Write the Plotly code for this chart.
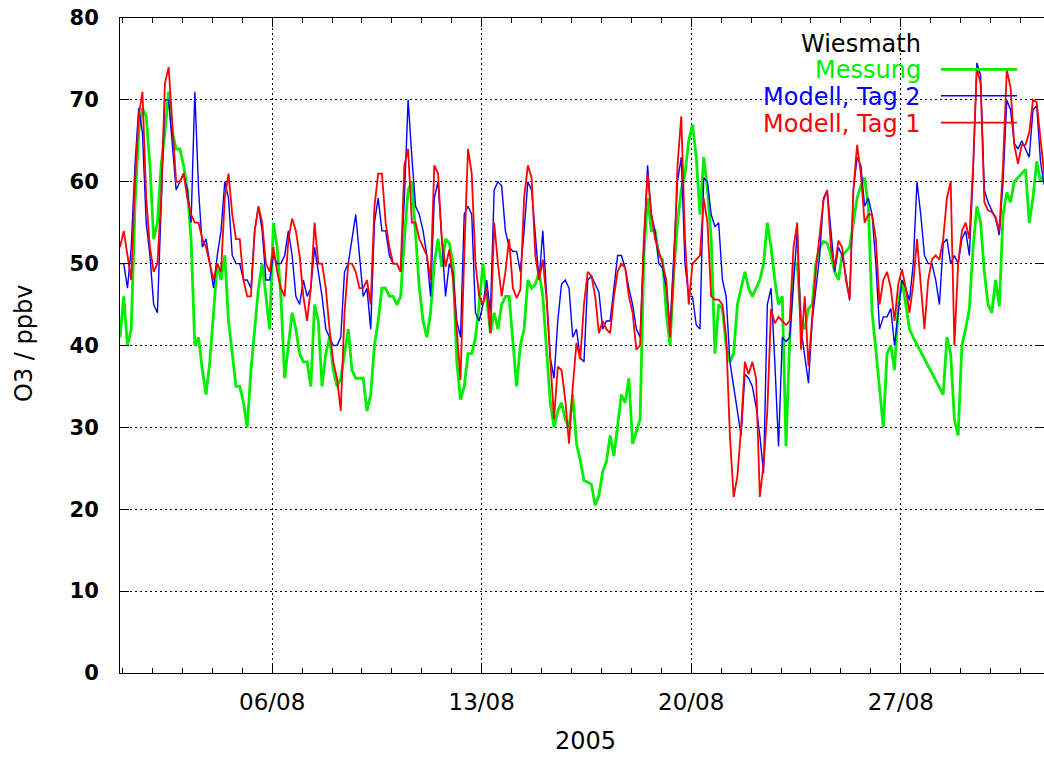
import plotly.graph_objects as go
import pandas as pd

# ---------------- data (3-hourly values, O3 in ppbv) ----------------
start_time = "2005-07-31 22:00"
step = "3h"
x_end = "2005-08-31 18:50"

messung = [
    41, 46, 40, 42, 57, 66, 69, 68,
    62, 53, 55, 62, 66, 71, 66, 64,
    64, 62, 59, 53, 40, 41, 37, 34,
    38, 44, 50, 48, 51, 43, 39, 35,
    35, 33, 30, 37, 42, 47, 50, 46,
    42, 55, 52, 46, 36, 40, 44, 42,
    39, 38, 38, 35, 45, 43, 35, 39,
    41, 37, 35, 36, 39, 42, 37, 36,
    36, 36, 32, 34, 40, 43, 47, 47,
    46, 46, 45, 46, 53, 59, 60, 54,
    47, 43, 41, 44, 50, 53, 49.6, 53,
    52.5, 50, 38, 33.4, 35, 39, 39, 41,
    45, 50, 46, 41.5, 44, 42, 45, 46,
    46, 40, 35, 40, 42, 48, 47, 47.5,
    49, 46, 40, 33, 30, 32, 33, 31,
    30, 34, 28, 26, 23.5, 23.3, 23, 20.5,
    21.7, 24.6, 25.8, 29, 26.5, 30, 34, 33,
    36, 28, 29.5, 31, 51, 58, 54, 54,
    51, 50.5, 44, 40, 49, 55, 59, 61,
    65, 67, 63, 56, 63, 59, 53, 39,
    45, 44.5, 40, 38, 39, 45, 47, 49,
    47, 46, 47, 48, 50, 55, 52, 48,
    45, 46, 27.7, 41, 50, 50, 43, 42,
    44.5, 45, 50, 52, 52.7, 52.5, 51, 49,
    48, 51, 51.5, 52, 55, 58, 59.5, 60.5,
    57, 44, 39.5, 34.5, 30, 39, 40, 37,
    45, 48, 45, 42, 41, None, None, None,
    None, None, None, None, 34, 41, 39, 31,
    29, 40, 42, 44.5, 52, 57, 55, 49,
    45, 44, 48, 44.8, 56, 58.7, 57.5, 60,
    60.5, 61, 61.5, 55, 58, 62.5, 60, 61,
]

modell_tag2 = [
    50, 50, 47, 52, 62, 69, 66, 55,
    51, 45, 44, 57, 70, 70, 64, 59,
    60, 61, 59, 55, 71, 59, 52, 53,
    50, 47, 51, 54, 60, 58, 51, 50,
    50, 48, 48, 47, 54, 57, 54, 48,
    48, 51, 50, 50, 51, 54, 51, 46,
    45, 48, 46, 47, 52, 49, 46, 42,
    41, 40, 40, 41, 49, 50, 53, 56,
    51, 46, 47, 42, 55, 58, 54, 54,
    51, 50, 50, 49, 58, 70, 63, 57,
    56, 54, 51, 46, 58, 60, 53, 46,
    50, 49, 43, 41, 56, 57, 56, 44,
    43, 45, 48, 44, 59, 60, 59.5, 54,
    52, 51.5, 51.5, 49, 54, 60, 59, 53,
    48, 54, 46, 38.5, 36, 43, 47.5, 48,
    47, 41, 42, 38.5, 38, 48, 48.5, 47.5,
    46.5, 42, 43, 43, 47, 51, 51, 49.5,
    47, 45, 42, 41, 52, 62, 56, 54,
    50, 49.5, 47, 42, 51, 60, 63, 50,
    46, 46, 42.5, 42, 60.5, 60, 56, 54.5,
    55, 48, 46, 38, 35, 32, 29, 36.5,
    36, 35, 32.5, 29, 24.4, 45, 47, 38,
    27.7, 41, 40.5, 41, 48, 54, 42, 38.5,
    35.4, 43, 47, 51, 58, 59, 54, 49,
    52, 51, 48.5, 45.5, 59, 63, 62, 57,
    58, 56, 50, 42, 43.5, 43.5, 44.5, 40,
    44, 48, 47, 45.5, 50, 60, 56, 51,
    50, 50, 48, 45, 52.5, 53, 50, 51,
    50, 53, 54, 51, 61, 74.5, 73, 59,
    57.5, 56.5, 55.5, 53.5, 60, 70, 68.8, 64.7,
    64, 65, 64, 63, 68.8, 69.3, 62.5, 59.6,
]

modell_tag1 = [
    52, 54, 51, 48, 60, 68, 71, 58,
    52, 49, 50, 58, 72, 74, 67, 60,
    60, 61, 58, 56, 55, 55, 53, 52,
    50, 48, 50, 49, 58, 61, 56, 53,
    53, 48, 46, 46, 54, 57, 55, 50,
    49, 52, 49, 47, 46, 53, 55.5, 54,
    51, 46, 43, 47, 55, 50, 50, 47,
    42, 38, 36, 32, 44, 50, 50, 49,
    47, 47, 48, 45, 57, 61, 61, 55,
    52, 50, 50, 49, 62, 64, 55, 55,
    53, 52, 51, 48, 62, 61, 53, 49.6,
    51.7, 48, 41.5, 35.8, 51, 64, 61, 50,
    46, 45, 47, 41.5, 55, 50, 46, 49,
    53, 47, 45.8, 46.8, 58, 62, 60.5, 51,
    48, 50.5, 45.6, 38.3, 31, 37.4, 37, 33.4,
    28, 35, 40.3, 38.3, 45, 49, 48.5, 46,
    41.5, 43, 42, 41.5, 46, 49, 50, 49.5,
    46, 44, 39.5, 40, 53, 61, 56, 53,
    51.5, 50, 48, 41, 49, 62, 68, 53,
    45, 50, 50.5, 51, 58, 55, 46, 45.6,
    45.6, 45, 41, 29, 21.5, 24, 30, 38,
    36.5, 38, 36, 21.5, 25.5, 32, 44.5, 42.7,
    43.5, 43, 42.5, 43, 52, 55, 39.5, 46,
    37.5, 43.5, 49.5, 53.5, 57.7, 59, 52, 49.5,
    52.8, 52, 48, 45.7, 59, 64.5, 61, 55,
    56, 56, 53, 45, 48, 49, 47, 43,
    47.5, 49.3, 47, 44, 47.5, 53, 48, 42,
    48, 50.5, 51, 50.5, 53, 58, 60, 40,
    50, 54, 55, 53, 62, 74, 72, 57.5,
    56.5, 56.3, 55.7, 54, 62, 73.7, 71.5, 64.5,
    62.2, 64.5, 64.5, 66, 70, 69.7, 65.2, 61,
]

y_ticks = [0, 10, 20, 30, 40, 50, 60, 70, 80]
x_tick_vals = ["2005-08-06", "2005-08-13", "2005-08-20", "2005-08-27"]
x_tick_text = ["06/08", "13/08", "20/08", "27/08"]

station = "Wiesmath"
series_names = ["Messung", "Modell, Tag 2", "Modell, Tag 1"]
series_colors = ["#00ee00", "#0000ff", "#ff0000"]
series_widths = [2.8, 1.4, 1.8]

times = pd.date_range(start_time, periods=len(messung), freq=step)

# ---------------- figure ----------------
W, H = 1044, 757
L, R, T, B = 120, 0, 18, 84
pw, ph = W - L - R, H - T - B


def px(x):
    return (x - L) / pw


def py(y):
    return (H - B - y) / ph


FONT = "DejaVu Sans, Liberation Sans, Arial, sans-serif"

fig = go.Figure()
for vals, name, col, lw in zip([messung, modell_tag2, modell_tag1],
                               series_names, series_colors, series_widths):
    fig.add_trace(go.Scatter(x=times, y=vals, mode="lines", name=name,
                             connectgaps=True,
                             line=dict(color=col, width=lw)))

axis_common = dict(
    showline=True, linecolor="black", linewidth=1, mirror="ticks",
    ticks="inside", ticklen=9, tickcolor="black", tickwidth=1,
    showgrid=True, gridcolor="black", gridwidth=1, griddash="2px,3px",
    zeroline=False,
)

fig.update_layout(
    width=W, height=H,
    margin=dict(l=L, r=R, t=T, b=B, pad=0),
    paper_bgcolor="white", plot_bgcolor="white",
    showlegend=False,
    xaxis=dict(
        type="date", range=[start_time, x_end],
        tickmode="array", tickvals=x_tick_vals, ticktext=x_tick_text,
        tickfont=dict(family=FONT, size=23, color="black"),
        ticklabelstandoff=8,
        minor=dict(tick0="2005-08-01", dtick=86400000, ticks="inside",
                   ticklen=5, tickcolor="black", showgrid=False),
        **axis_common,
    ),
    yaxis=dict(
        range=[0, 80], tickmode="array", tickvals=y_ticks,
        tickfont=dict(family=FONT, size=21, color="black", weight="bold"),
        ticklabelstandoff=16,
        **axis_common,
    ),
)

# white key box hiding the grid (drawn between grid and traces)
fig.add_shape(type="rect", xref="paper", yref="paper",
              x0=px(708), x1=px(1036), y0=py(140), y1=py(18.5),
              fillcolor="white", line=dict(width=0), layer="between")

ann = []
ann.append(dict(text="O3 / ppbv", xref="paper", yref="paper", x=px(24), y=py(344),
                xanchor="center", yanchor="middle",
                textangle=-90, showarrow=False,
                font=dict(family=FONT, size=24, color="black")))
ann.append(dict(text="2005", xref="paper", yref="paper", x=px(585), y=py(741),
                xanchor="center", yanchor="middle",
                showarrow=False, font=dict(family=FONT, size=24, color="black")))

# key (gnuplot-style: right-aligned text + line sample)
ann.append(dict(text=station, xref="paper", yref="paper", x=px(923), y=py(44),
                xanchor="right", yanchor="middle", showarrow=False,
                font=dict(family=FONT, size=24, color="black")))
rows = [69.3, 95.7, 122.7]
for name, col, lw, ry in zip(series_names, series_colors, series_widths, rows):
    ann.append(dict(text=name, xref="paper", yref="paper", x=px(923), y=py(ry + 1),
                    xanchor="right", yanchor="middle", showarrow=False,
                    font=dict(family=FONT, size=24, color=col)))
    fig.add_shape(type="line", xref="paper", yref="paper",
                  x0=px(941), x1=px(1017), y0=py(ry), y1=py(ry),
                  line=dict(color=col, width=lw), layer="above")

fig.update_layout(annotations=ann)
fig.write_html("out.html")
